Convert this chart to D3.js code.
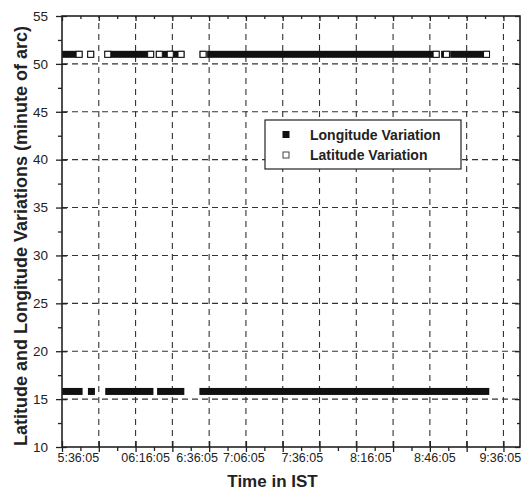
<!DOCTYPE html>
<html>
<head>
<meta charset="utf-8">
<script src="https://cdn.jsdelivr.net/npm/d3@7/dist/d3.min.js"></script>
<style>
  body { margin: 0; background: #fff; }
  text { font-family: Arial, "Liberation Sans", sans-serif; fill: #222; }
</style>
</head>
<body>
<script>
// y axis (minute of arc)
const yTicks = [10, 15, 20, 25, 30, 35, 40, 45, 50, 55];
const yMinor = [12.5, 17.5, 22.5, 27.5, 32.5, 37.5, 42.5, 47.5, 52.5];

// x axis is in reading blocks, the time labels sit where Origin put them
const xTicks = [0, 1, 2, 3, 4, 5, 6, 7, 8, 9, 10, 11, 12];
const xMinor = [0.5, 1.5, 2.5, 3.5, 4.5, 5.5, 6.5, 7.5, 8.5, 9.5, 10.5, 11.5];
const timeLabels = ["5:36:05", "06:16:05", "6:36:05", "7:06:05", "7:36:05", "8:16:05", "8:46:05", "9:36:05"];
const timeLabelAt = [0.43, 2.26, 3.66, 4.93, 6.52, 8.38, 10.12, 11.9];

// runs of consecutive readings [from, to]
const lonValue = 15.8;
const lonRuns = [[0.095, 0.465], [0.80, 0.80], [1.27, 2.39], [2.68, 3.23], [3.83, 11.52]];
const latValue = 51.0;
const latRuns = [[0.095, 0.465], [0.78, 0.78], [1.245, 1.245], [1.42, 2.41],
                 [2.645, 2.645], [2.834, 2.943], [3.05, 3.235], [3.835, 3.835],
                 [4.04, 10.17], [10.40, 10.45], [10.647, 11.54]];

const width = 523;
const height = 492;
const svg = d3.select("body").append("svg")
    .attr("width", width)
    .attr("height", height);

const x = d3.scaleLinear().domain([0, 12.45]).range([62, 520]);
const y = d3.scaleLinear().domain([10, 55]).range([447, 16]);
const ms = 7; // marker size

// grid
svg.append("g").selectAll("line")
    .data(yTicks.slice(1, -1))
    .join("line")
    .attr("x1", x.range()[0]).attr("x2", x.range()[1])
    .attr("y1", d => y(d)).attr("y2", d => y(d))
    .attr("stroke", "#333").attr("stroke-width", 1.1)
    .attr("stroke-dasharray", "6,4");

svg.append("g").selectAll("line")
    .data(xTicks.slice(1))
    .join("line")
    .attr("x1", d => x(d)).attr("x2", d => x(d))
    .attr("y1", y.range()[0]).attr("y2", y.range()[1])
    .attr("stroke", "#333").attr("stroke-width", 1.1)
    .attr("stroke-dasharray", "6,5");

// longitude: filled squares
svg.append("g").selectAll("rect")
    .data(lonRuns)
    .join("rect")
    .attr("x", d => x(d[0]) - ms / 2)
    .attr("width", d => x(d[1]) - x(d[0]) + ms)
    .attr("y", y(lonValue) - ms / 2)
    .attr("height", ms)
    .attr("fill", "#111");

// latitude: open squares, dense runs turn black except the last one
const lat = svg.append("g");
lat.selectAll("rect.run")
    .data(latRuns)
    .join("rect")
    .attr("class", "run")
    .attr("x", d => x(d[0]) - ms / 2)
    .attr("width", d => x(d[1]) - x(d[0]) + ms)
    .attr("y", y(latValue) - ms / 2)
    .attr("height", ms)
    .attr("fill", "#111");
lat.selectAll("rect.last")
    .data(latRuns)
    .join("rect")
    .attr("class", "last")
    .attr("x", d => x(d[1]) - ms / 2 + 0.5)
    .attr("width", ms - 1)
    .attr("y", y(latValue) - ms / 2 + 0.5)
    .attr("height", ms - 1)
    .attr("fill", "#fff")
    .attr("stroke", "#111")
    .attr("stroke-width", 1);

// axes, one group per tick set so calls don't overwrite each other
const [xA, xB] = x.range();
const [yA, yB] = y.range();

function axisGroup(tx, ty, axis) {
    return svg.append("g").attr("transform", `translate(${tx},${ty})`).call(axis);
}

const leftLabels = axisGroup(xA, 0, d3.axisLeft(y).tickValues(yTicks).tickSize(6).tickPadding(8));
leftLabels.selectAll("text").style("font-size", "13.5px").attr("fill", "#333");
axisGroup(xA, 0, d3.axisLeft(y).tickValues(yTicks).tickSize(-5).tickFormat(""));
axisGroup(xA, 0, d3.axisLeft(y).tickValues(yMinor).tickSize(4).tickFormat(""));

axisGroup(xB, 0, d3.axisRight(y).tickValues(yTicks).tickSize(-5).tickFormat(""));
axisGroup(xB, 0, d3.axisRight(y).tickValues(yMinor).tickSize(-3).tickFormat(""));

axisGroup(0, yA, d3.axisBottom(x).tickValues(xTicks).tickSize(5).tickFormat(""));
axisGroup(0, yA, d3.axisBottom(x).tickValues(xTicks).tickSize(-6).tickFormat(""));
axisGroup(0, yA, d3.axisBottom(x).tickValues(xMinor).tickSize(4).tickFormat(""));
const timeAxis = axisGroup(0, yA, d3.axisBottom(x).tickValues(timeLabelAt).tickSize(0).tickPadding(6)
    .tickFormat((d, i) => timeLabels[i]));
timeAxis.selectAll("text").style("font-size", "12.5px").attr("fill", "#222");

axisGroup(0, yB, d3.axisTop(x).tickValues(xTicks).tickSize(-5).tickFormat(""));
axisGroup(0, yB, d3.axisTop(x).tickValues(xMinor).tickSize(-3).tickFormat(""));

svg.selectAll(".domain").remove();
svg.selectAll(".tick line").attr("stroke", "#222").attr("stroke-width", 1.3);

// frame
svg.append("rect")
    .attr("x", xA).attr("y", yB)
    .attr("width", xB - xA).attr("height", yA - yB)
    .attr("fill", "none")
    .attr("stroke", "#222")
    .attr("stroke-width", 1.6);

// legend
const legend = svg.append("g");
legend.append("rect")
    .attr("x", 265).attr("y", 120)
    .attr("width", 196).attr("height", 49)
    .attr("fill", "#fff").attr("stroke", "#222").attr("stroke-width", 1.2);
legend.append("rect")
    .attr("x", 282.5).attr("y", 131).attr("width", 7).attr("height", 7)
    .attr("fill", "#111");
legend.append("rect")
    .attr("x", 283).attr("y", 152).attr("width", 6).attr("height", 6)
    .attr("fill", "#fff").attr("stroke", "#444").attr("stroke-width", 1);
legend.append("text").attr("x", 310).attr("y", 139.5)
    .style("font-size", "14px").style("font-weight", "bold")
    .text("Longitude Variation");
legend.append("text").attr("x", 310).attr("y", 160)
    .style("font-size", "14px").style("font-weight", "bold")
    .text("Latitude Variation");

// axis titles
svg.append("text")
    .attr("x", 272.5).attr("y", 487)
    .attr("text-anchor", "middle")
    .style("font-size", "17px").style("font-weight", "bold")
    .text("Time in IST");

svg.append("text")
    .attr("transform", "translate(27,236) rotate(-90)")
    .attr("text-anchor", "middle")
    .style("font-size", "18px").style("font-weight", "bold")
    .text("Latitude and Longitude Variations (minute of arc)");
</script>
</body>
</html>
